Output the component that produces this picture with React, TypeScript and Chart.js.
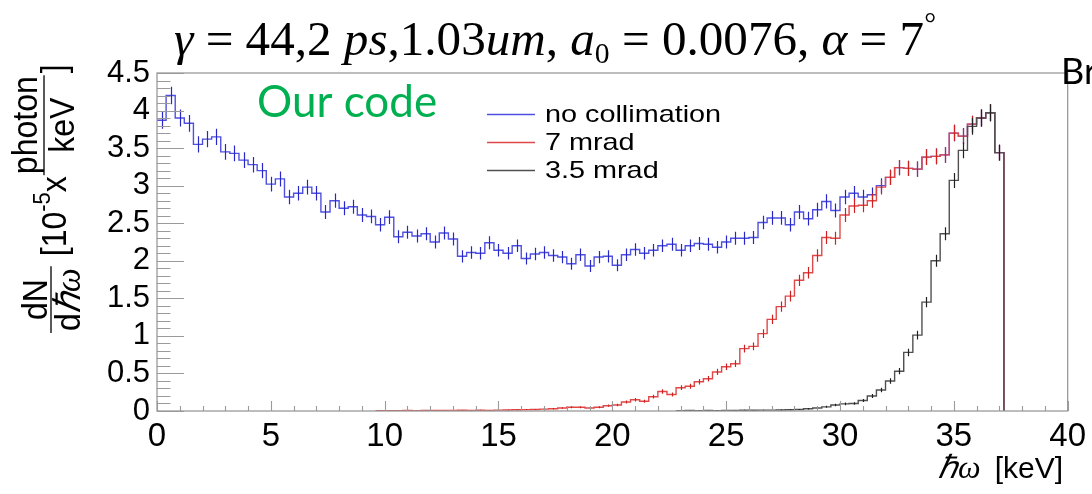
import React, { useEffect, useRef } from 'react';
import { Chart, registerables } from 'chart.js';

Chart.register(...registerables);

// ---------------- data ----------------
const BIN_WIDTH = 0.4; // keV, 100 bins over 0-40 keV
const binEdges: number[] = Array.from({ length: 101 }, (_, i) => Math.round(i * BIN_WIDTH * 10) / 10);

const noCollimation: number[] = [
  3.87, 4.2, 3.9, 3.83, 3.55, 3.62, 3.65, 3.45, 3.43, 3.34,
  3.28, 3.2, 3.02, 3.09, 2.85, 2.9, 2.98, 2.9, 2.65, 2.8,
  2.7, 2.72, 2.61, 2.59, 2.48, 2.58, 2.32, 2.38, 2.33, 2.36,
  2.25, 2.37, 2.29, 2.06, 2.11, 2.1, 2.24, 2.14, 2.1, 2.2,
  2.03, 2.09, 2.11, 2.07, 2.05, 1.96, 2.08, 1.93, 2.05, 2.06,
  1.94, 2.08, 2.15, 2.1, 2.14, 2.2, 2.22, 2.14, 2.2, 2.23,
  2.22, 2.18, 2.25, 2.3, 2.3, 2.31, 2.51, 2.57, 2.57, 2.48,
  2.65, 2.56, 2.68, 2.79, 2.67, 2.85, 2.9, 2.85, 2.88, 3.0,
  3.11, 3.24, 3.23, 3.22, 3.38, 3.39, 3.41, 3.7, 3.66, 3.82,
  3.9, 3.97, 3.44, 0, 0, 0, 0, 0, 0, 0,
];

const mrad7: number[] = [
  0, 0, 0, 0, 0, 0, 0, 0, 0, 0,
  0, 0, 0, 0, 0, 0, 0, 0, 0, 0,
  0, 0, 0, 0, 0.005, 0.004, 0.003, 0.006, 0.005, 0.007,
  0.006, 0.008, 0.006, 0.009, 0.007, 0.01, 0.008, 0.012, 0.014, 0.016,
  0.018, 0.02, 0.025, 0.03, 0.04, 0.05, 0.05, 0.04, 0.05, 0.07,
  0.08, 0.12, 0.15, 0.13, 0.19, 0.26, 0.22, 0.31, 0.33, 0.39,
  0.43, 0.52, 0.59, 0.63, 0.83, 0.86, 1.03, 1.22, 1.39, 1.53,
  1.74, 1.84, 2.07, 2.31, 2.3, 2.61, 2.73, 2.74, 2.8, 2.98,
  3.11, 3.24, 3.23, 3.22, 3.38, 3.39, 3.41, 3.7, 3.66, 3.82,
  3.9, 3.97, 3.44, 0, 0, 0, 0, 0, 0, 0,
];

const mrad35: number[] = [
  0, 0, 0, 0, 0, 0, 0, 0, 0, 0,
  0, 0, 0, 0, 0, 0, 0, 0, 0, 0,
  0, 0, 0, 0, 0, 0, 0, 0, 0, 0,
  0, 0, 0, 0, 0, 0, 0, 0, 0, 0,
  0, 0, 0, 0, 0, 0, 0, 0, 0, 0,
  0, 0, 0, 0, 0, 0, 0, 0.005, 0.006, 0.005,
  0.006, 0.005, 0.007, 0.008, 0.01, 0.009, 0.011, 0.012, 0.014, 0.016,
  0.02, 0.03, 0.04, 0.055, 0.08, 0.095, 0.1, 0.14, 0.2, 0.28,
  0.4, 0.53, 0.78, 1.01, 1.45, 2.0, 2.36, 3.07, 3.47, 3.79,
  3.9, 3.97, 3.44, 0, 0, 0, 0, 0, 0, 0,
];

const seriesValues = [noCollimation, mrad7, mrad35];
const seriesLabels = ['no collimation', '7 mrad', '3.5 mrad'];
const lineColors = ['#5050e0', '#e04848', '#505050'];
const barColors = ['#2828c8', '#d02020', '#202020'];

const xTickValues = [0, 5, 10, 15, 20, 25, 30, 35, 40];
const yTickValues = [0, 0.5, 1, 1.5, 2, 2.5, 3, 3.5, 4, 4.5];

// ---------------- helpers ----------------
function stepPoints(values: number[]) {
  const first = values.findIndex((v) => v > 0);
  let last = values.length - 1;
  while (last >= 0 && values[last] === 0) last--;
  const pts: { x: number; y: number }[] = [];
  for (let i = first; i <= last; i++) pts.push({ x: binEdges[i], y: values[i] });
  pts.push({ x: binEdges[last + 1], y: 0 });
  return pts;
}

const errorBarsPlugin = {
  id: 'errorBars',
  afterDatasetsDraw(chart: any) {
    const { ctx, chartArea, scales } = chart;
    const xs = scales.x;
    const ys = scales.y;
    ctx.save();
    ctx.beginPath();
    ctx.rect(chartArea.left, chartArea.top, chartArea.right - chartArea.left, chartArea.bottom - chartArea.top);
    ctx.clip();
    seriesValues.forEach((vals, s) => {
      ctx.strokeStyle = barColors[s];
      ctx.lineWidth = 1.2;
      ctx.beginPath();
      vals.forEach((v, i) => {
        if (v <= 0) return;
        const e = 0.057 * Math.sqrt(v);
        const px = Math.round(xs.getPixelForValue(binEdges[i] + BIN_WIDTH / 2)) + 0.5;
        ctx.moveTo(px, ys.getPixelForValue(v - e));
        ctx.lineTo(px, ys.getPixelForValue(v + e));
      });
      ctx.stroke();
    });
    ctx.restore();
  },
};

function drawYTitle(ctx: CanvasRenderingContext2D) {
  const k = 1.08;
  const fs = 32;
  const sans = `${fs}px "Liberation Sans"`;
  const serifIt = `italic ${fs + 2}px "Liberation Serif"`;
  ctx.save();
  ctx.translate(0, 333);
  ctx.rotate(-Math.PI / 2);
  ctx.scale(1, k);
  ctx.fillStyle = '#000';
  ctx.textBaseline = 'alphabetic';
  ctx.textAlign = 'left';
  // fraction dN / dħω
  ctx.font = sans;
  const wN = ctx.measureText('dN').width;
  const wd = ctx.measureText('d').width;
  ctx.font = serifIt;
  const wHw = ctx.measureText('\u210Fω').width;
  const wDen = wd + wHw;
  const f1 = Math.max(wN, wDen) + 4;
  ctx.fillRect(0, 51 / k - 0.6, f1, 1.2);
  ctx.font = sans;
  ctx.fillText('dN', (f1 - wN) / 2, 47 / k);
  ctx.fillText('d', (f1 - wDen) / 2, 80 / k);
  ctx.font = serifIt;
  ctx.fillText('\u210Fω', (f1 - wDen) / 2 + wd, 80 / k);
  let u = f1 + 10;
  ctx.font = sans;
  ctx.fillText('[10', u, 66 / k);
  u += ctx.measureText('[10').width;
  ctx.font = `${Math.round(fs * 0.7)}px "Liberation Sans"`;
  ctx.fillText('-5', u, 50 / k);
  u += ctx.measureText('-5').width;
  ctx.font = sans;
  ctx.fillText('x', u, 66 / k);
  u += ctx.measureText('x').width + 1;
  const wP = ctx.measureText('photon').width;
  const wK = ctx.measureText('keV').width;
  const f2 = Math.max(wP, wK) + 2;
  ctx.fillRect(u, 44 / k - 0.6, f2, 1.2);
  ctx.fillText('photon', u + (f2 - wP) / 2, 37 / k);
  ctx.fillText('keV', u + (f2 - wK) / 2, 74 / k);
  u += f2 + 2;
  ctx.fillText(']', u, 66 / k);
  ctx.restore();
}

function drawTitle(ctx: CanvasRenderingContext2D) {
  const fs = 48;
  const segs: { t: string; it?: boolean; sub?: boolean; sup?: boolean }[] = [
    { t: 'γ', it: true },
    { t: ' = 44,2 ' },
    { t: 'ps', it: true },
    { t: ',1.03' },
    { t: 'um', it: true },
    { t: ', ' },
    { t: 'a', it: true },
    { t: '0', sub: true },
    { t: ' = 0.0076, ' },
    { t: 'α', it: true },
    { t: ' = 7' },
    { t: '°', sup: true },
  ];
  const fontFor = (s: any) =>
    `${s.it ? 'italic ' : ''}${s.sub || s.sup ? Math.round(fs * 0.6) : fs}px "Liberation Serif"`;
  let total = 0;
  segs.forEach((s) => {
    ctx.font = fontFor(s);
    total += ctx.measureText(s.t).width;
  });
  const targetW = 762;
  const sx = targetW / total;
  ctx.save();
  ctx.translate(174, 55);
  ctx.scale(sx, 1);
  ctx.fillStyle = '#000';
  ctx.textBaseline = 'alphabetic';
  ctx.textAlign = 'left';
  let x = 0;
  segs.forEach((s) => {
    ctx.font = fontFor(s);
    const dy = s.sub ? 8 : s.sup ? -22 : 0;
    ctx.fillText(s.t, x, dy);
    x += ctx.measureText(s.t).width;
  });
  ctx.restore();
}

const decorPlugin = {
  id: 'decor',
  afterDraw(chart: any) {
    const { ctx, chartArea, scales } = chart;
    const xs = scales.x;
    const ys = scales.y;
    const { left, right, top, bottom } = chartArea;
    ctx.save();
    // frame
    ctx.strokeStyle = '#9a9a9a';
    ctx.lineWidth = 1.3;
    ctx.strokeRect(left, top, right - left, bottom - top);
    // inner ticks
    ctx.beginPath();
    for (let i = 0; i <= 40; i++) {
      const px = Math.round(xs.getPixelForValue(i)) + 0.5;
      const len = i % 5 === 0 ? 10 : 5;
      ctx.moveTo(px, bottom);
      ctx.lineTo(px, bottom - len);
    }
    for (let i = 0; i <= 45; i++) {
      const py = Math.round(ys.getPixelForValue(i / 10)) + 0.5;
      const len = i % 5 === 0 ? 27 : 13.5;
      ctx.moveTo(left, py);
      ctx.lineTo(left + len, py);
    }
    ctx.lineWidth = 1.1;
    ctx.stroke();

    // legend
    ctx.textAlign = 'left';
    ctx.textBaseline = 'middle';
    seriesLabels.forEach((lab, i) => {
      const y = 114 + i * 28;
      ctx.strokeStyle = lineColors[i];
      ctx.lineWidth = 1.5;
      ctx.beginPath();
      ctx.moveTo(487, y + 0.5);
      ctx.lineTo(535, y + 0.5);
      ctx.stroke();
      ctx.save();
      ctx.translate(545, y);
      ctx.scale(1.2, 1);
      ctx.fillStyle = '#000';
      ctx.font = '24px "Liberation Sans"';
      ctx.fillText(lab, 0, 1);
      ctx.restore();
    });

    // "Our code"
    ctx.textBaseline = 'alphabetic';
    ctx.fillStyle = '#00b050';
    ctx.font = '44px Lato';
    ctx.fillText('Our code', 257, 117);

    // "Br" (cut off at the right edge)
    ctx.fillStyle = '#000';
    ctx.font = '36px Lato';
    ctx.fillText('Br', 1061, 84);

    // title
    drawTitle(ctx);

    // x axis title
    ctx.fillStyle = '#000';
    ctx.textBaseline = 'alphabetic';
    ctx.font = '30px "Liberation Sans"';
    const wKeV = ctx.measureText('[keV]').width;
    ctx.fillText('[keV]', 1063 - wKeV, 478);
    ctx.font = 'italic 32px "Liberation Serif"';
    const wHw = ctx.measureText('\u210Fω').width;
    ctx.fillText('\u210Fω', 1063 - wKeV - 14 - wHw, 478);

    // y axis title
    drawYTitle(ctx);
    ctx.restore();
  },
};

export default function App() {
  const ref = useRef<HTMLCanvasElement>(null);
  useEffect(() => {
    if (!ref.current) return;
    const chart = new Chart(ref.current, {
      type: 'line',
      data: {
        datasets: seriesValues.map((vals, i) => ({
          label: seriesLabels[i],
          data: stepPoints(vals),
          borderColor: lineColors[i],
          backgroundColor: lineColors[i],
          borderWidth: 1.4,
          stepped: 'before' as const,
          pointRadius: 0,
          fill: false,
          order: 2 - i,
        })),
      },
      options: {
        animation: false,
        responsive: false,
        maintainAspectRatio: false,
        events: [],
        layout: { padding: { left: 0, right: 24, top: 73, bottom: 0 } },
        plugins: {
          legend: { display: false },
          title: { display: false },
          tooltip: { enabled: false },
        },
        scales: {
          x: {
            type: 'linear',
            min: 0,
            max: 40,
            grid: { display: false, drawTicks: false },
            border: { display: false },
            afterFit: (s: any) => {
              s.height = 83;
            },
            afterBuildTicks: (s: any) => {
              s.ticks = xTickValues.map((v) => ({ value: v }));
            },
            ticks: {
              autoSkip: false,
              maxRotation: 0,
              padding: 6,
              color: '#000',
              font: { family: 'Liberation Sans', size: 33 },
              callback: (v: any) => String(v),
            },
          },
          y: {
            type: 'linear',
            min: 0,
            max: 4.5,
            grid: { display: false, drawTicks: false },
            border: { display: false },
            afterFit: (s: any) => {
              s.width = 157;
            },
            afterBuildTicks: (s: any) => {
              s.ticks = yTickValues.map((v) => ({ value: v }));
            },
            ticks: {
              autoSkip: false,
              padding: 7,
              color: '#000',
              font: { family: 'Liberation Sans', size: 31 },
              callback: (v: any) => String(v),
            },
          },
        },
      },
      plugins: [errorBarsPlugin, decorPlugin],
    } as any);
    return () => chart.destroy();
  }, []);
  return (
    <div style={{ position: 'absolute', left: 0, top: 0, width: 1092, height: 494, background: '#fff', overflow: 'hidden' }}>
      <canvas ref={ref} width={1092} height={494} style={{ display: 'block', width: 1092, height: 494 }} />
    </div>
  );
}
